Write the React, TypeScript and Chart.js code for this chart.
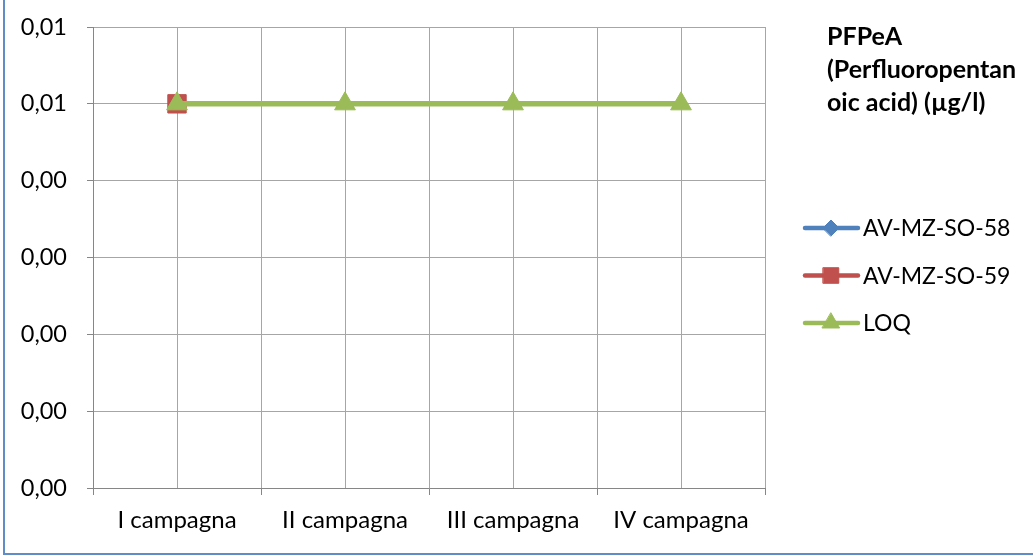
import React, { useEffect, useRef } from 'react';
import { Chart, registerables } from 'chart.js';
import { drawPoint } from 'chart.js/helpers';

Chart.register(...registerables);

const FONT = 'Lato';

const categories = ['I campagna', 'II campagna', 'III campagna', 'IV campagna'];
const seriesNames = ['AV-MZ-SO-58', 'AV-MZ-SO-59', 'LOQ'];
const av58Values: (number | null)[] = [0.005, null, null, null];
const av59Values: (number | null)[] = [0.005, null, null, null];
const loqValues: (number | null)[] = [0.005, 0.005, 0.005, 0.005];
const yTickLabels = ['0,00', '0,00', '0,00', '0,00', '0,00', '0,01', '0,01'];
const titleLines = ['PFPeA', '(Perfluoropentan', 'oic acid) (µg/l)'];

const colors = ['#4f81bd', '#c0504d', '#9bbb59'];
const pointStyles = ['rectRot', 'rect', 'triangle'];
const pointRadii = [9, 13, 12];
const legendRadii = [8, 11, 10];

const toPoints = (vals: (number | null)[]) => vals.map((y, i) => ({ x: i, y }));

const sideLegend = {
  id: 'sideLegend',
  afterDraw(chart: any) {
    const ctx = chart.ctx as CanvasRenderingContext2D;
    ctx.save();
    ctx.fillStyle = '#000000';
    ctx.font = `bold 25px ${FONT}`;
    ctx.textAlign = 'left';
    ctx.textBaseline = 'alphabetic';
    titleLines.forEach((line, i) => ctx.fillText(line, 827, 45 + i * 33));

    seriesNames.forEach((name, i) => {
      const y = 228 + i * 47.5;
      ctx.strokeStyle = colors[i];
      ctx.lineWidth = 4.5;
      ctx.lineCap = 'round';
      ctx.beginPath();
      ctx.moveTo(805, y);
      ctx.lineTo(858, y);
      ctx.stroke();
      ctx.fillStyle = colors[i];
      ctx.strokeStyle = colors[i];
      ctx.lineWidth = 1;
      drawPoint(ctx, { pointStyle: pointStyles[i], radius: legendRadii[i], rotation: 0, borderWidth: 1 } as any, 831, y);
      ctx.fillStyle = '#000000';
      ctx.font = `23px ${FONT}`;
      ctx.textBaseline = 'middle';
      ctx.fillText(name, 863, y + 1);
    });
    ctx.restore();
  },
};

export default function App() {
  const ref = useRef<HTMLCanvasElement>(null);

  useEffect(() => {
    document.body.style.margin = '0';
    const canvas = ref.current!;
    const series = [av58Values, av59Values, loqValues];
    const chart = new Chart(canvas, {
      type: 'line',
      data: {
        datasets: series.map((vals, i) => ({
          label: seriesNames[i],
          data: toPoints(vals),
          borderColor: colors[i],
          backgroundColor: colors[i],
          borderWidth: 5.5,
          pointStyle: pointStyles[i] as any,
          pointRadius: pointRadii[i],
          pointHoverRadius: pointRadii[i],
          pointBorderWidth: 1,
          pointBackgroundColor: colors[i],
          pointBorderColor: colors[i],
          order: 2 - i,
          tension: 0,
          spanGaps: false,
        })),
      },
      options: {
        responsive: false,
        animation: false,
        events: [],
        layout: { padding: { left: 0, top: 27, right: 268, bottom: 0 } },
        plugins: {
          legend: { display: false },
          title: { display: false },
          tooltip: { enabled: false },
        },
        scales: {
          x: {
            type: 'linear',
            min: -0.5,
            max: 3.5,
            afterFit: (s: any) => { s.height = 68; s.paddingLeft = 0; s.paddingRight = 0; },
            ticks: {
              stepSize: 0.5,
              autoSkip: false,
              maxRotation: 0,
              padding: 11,
              color: '#000000',
              font: { family: FONT, size: 24 },
              callback: (v: any) => (Number.isInteger(v) ? categories[v] : ''),
            },
            grid: {
              color: '#a6a6a6',
              lineWidth: 1,
              tickLength: 7,
              tickColor: (c: any) => (Number.isInteger(c.tick?.value) ? 'rgba(0,0,0,0)' : '#868686'),
            },
            border: { color: '#868686', width: 1 },
          },
          y: {
            type: 'linear',
            min: 0,
            max: 0.006,
            afterFit: (s: any) => { s.width = 93; s.paddingTop = 0; s.paddingBottom = 0; },
            ticks: {
              stepSize: 0.001,
              padding: 20,
              color: '#000000',
              font: { family: FONT, size: 23.5 },
              callback: (_v: any, i: number) => yTickLabels[i],
            },
            grid: {
              color: '#a6a6a6',
              lineWidth: 1,
              tickLength: 6,
              tickColor: '#868686',
            },
            border: { color: '#868686', width: 1 },
          },
        },
      },
      plugins: [sideLegend],
    });
    return () => chart.destroy();
  }, []);

  return (
    <div style={{ position: 'relative', width: 1033, height: 556, overflow: 'hidden', background: '#ffffff' }}>
      <canvas ref={ref} width={1033} height={556} style={{ position: 'absolute', left: 0, top: 0 }} />
      <div
        style={{
          position: 'absolute',
          left: 3,
          top: -10,
          width: 1100,
          height: 565,
          boxSizing: 'border-box',
          border: '2px solid #5f8dc8',
          pointerEvents: 'none',
        }}
      />
    </div>
  );
}
